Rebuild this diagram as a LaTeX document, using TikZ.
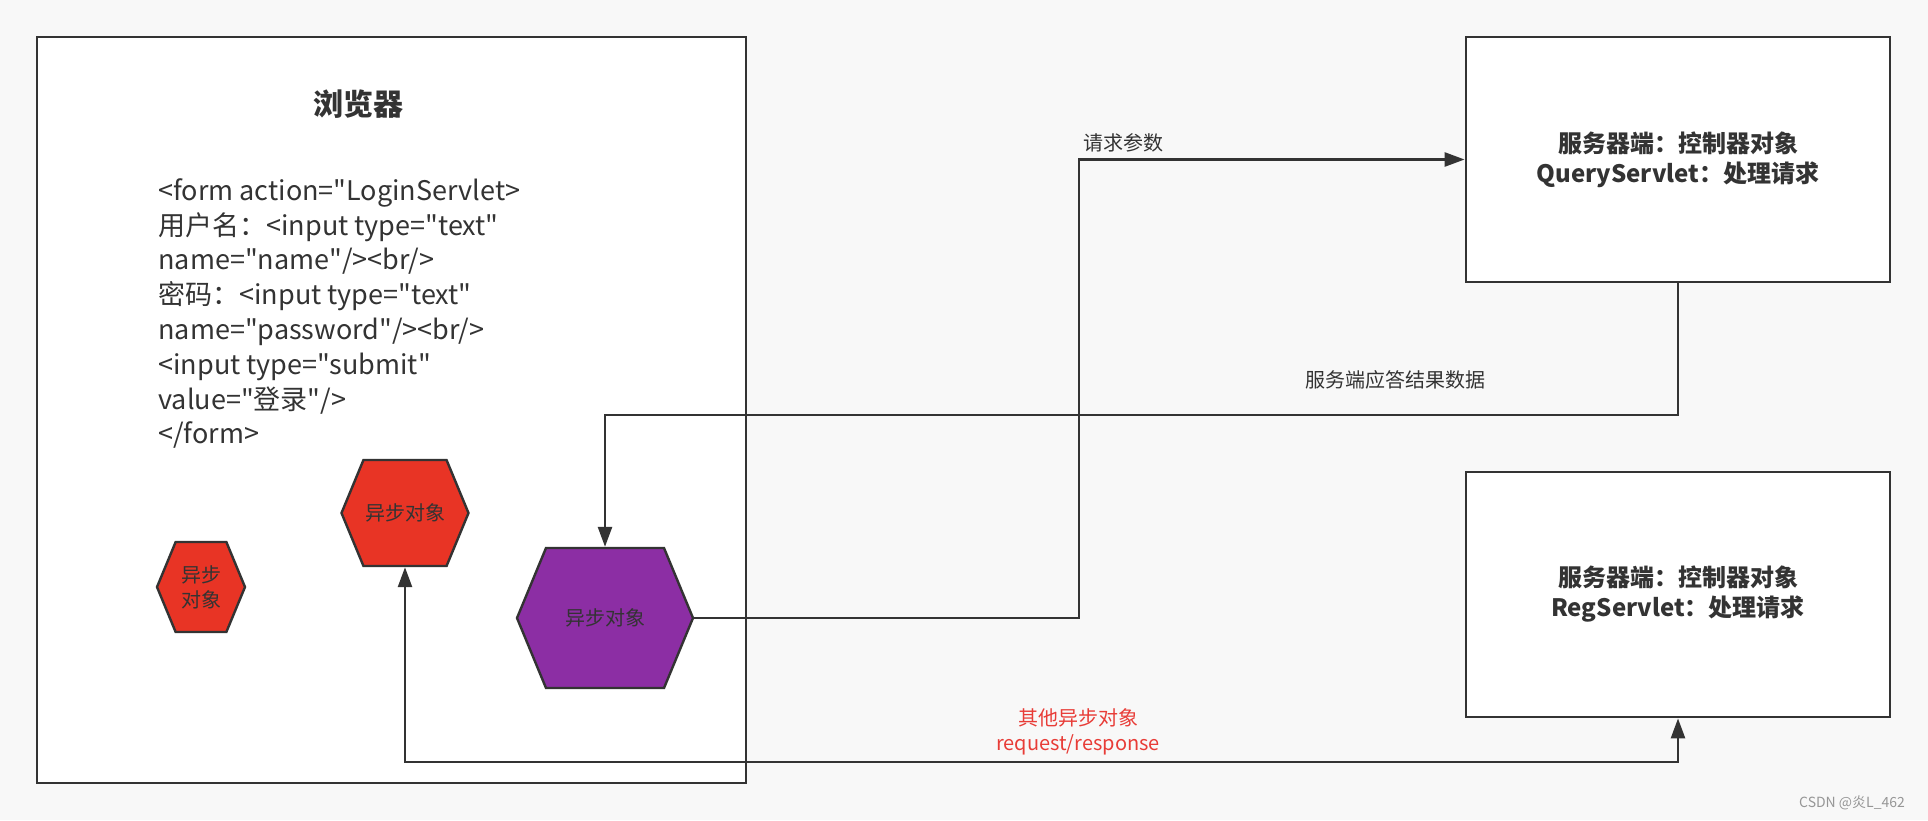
\documentclass[tikz,border=0pt]{standalone}
\usepackage{fontspec}
\setmainfont{Noto Sans CJK SC}[Ligatures=TeXOff]
\usetikzlibrary{positioning,arrows.meta,shapes.symbols}
\definecolor{LineGray}{RGB}{51,51,51}
\definecolor{PageGray}{RGB}{248,248,248}
\definecolor{AsyncRed}{RGB}{232,52,37}
\definecolor{AsyncPurple}{RGB}{140,46,164}
\definecolor{NoteRed}{RGB}{232,60,55}
\definecolor{MarkGray}{RGB}{150,150,150}

\tikzset{
	box/.style={
		draw=LineGray,
		fill=white,
		line width=1.4pt,
		minimum width=212pt,
		minimum height=122.5pt,
		align=center,
		text=LineGray,
		font=\bfseries\fontsize{12}{15}\selectfont
	},
	hexa/.style={
		signal,
		signal to=east and west,
		signal pointer angle=135,
		draw=LineGray,
		line width=1.2pt,
		inner sep=0pt,
		align=center,
		text=LineGray,
		font=\fontsize{10}{12.5}\selectfont
	},
	flow/.style={
		->,
		>={Triangle[length=10pt,width=7pt]},
		LineGray,
		line width=1.3pt
	},
	lbl/.style={
		text=LineGray,
		font=\fontsize{10}{12.5}\selectfont
	}
}

\begin{document}
\begin{tikzpicture}[x=0.5pt,y=-0.5pt]
				
				\useasboundingbox (0,0) rectangle (1928,820);
				\fill[PageGray] (0,0) rectangle (1928,820);
				
				\node[
				box,
				minimum width=354.5pt,
				minimum height=373pt
				]
				(browser) at (391.5,410)
				{};
				
				\node[
				text=LineGray,
				font=\bfseries\fontsize{15}{18}\selectfont
				]
				(title) at (358,104)
				{浏览器};
				
				\node[
				anchor=north west,
				align=left,
				inner sep=0pt,
				text=LineGray,
				font=\fontsize{13.5}{17.4}\selectfont
				]
				(form) at (158,178)
				{<form action="LoginServlet>\\
					用户名：<input type="text"\\
					name="name"/><br/>\\
					密码：<input type="text"\\
					name="password"/><br/>\\
					<input type="submit"\\
					value="登录"/>\\
					</form>};
				
				\node[
				hexa,
				fill=AsyncRed,
				minimum width=44pt,
				minimum height=45pt
				]
				(small) at (201,587)
				{异步\\对象};
				
				\node[
				hexa,
				fill=AsyncRed,
				minimum width=63.5pt,
				minimum height=53pt
				]
				(other) at (405,513)
				{异步对象};
				
				\node[
				hexa,
				fill=AsyncPurple,
				minimum width=88pt,
				minimum height=70pt
				]
				(async) at (605,618)
				{异步对象};
				
				\node[box] (query) at (1678,159.5)
				{服务器端：控制器对象\\QueryServlet：处理请求};
				
				\node[box] (reg) at (1678,594.5)
				{服务器端：控制器对象\\RegServlet：处理请求};
				
				\coordinate (reqbend) at (1079,159.5);
				\coordinate (respbend) at (605,415);
				\coordinate (otherbend) at (1678,762);
				
				\draw[flow] (async.east) -| (reqbend) -- (query.west);
				
				\draw[flow] (query.south) |- (respbend) -- (async.north);
				
				\draw[flow, <->] (other.south) |- (otherbend) -- (reg.south);
				
				\node[lbl, anchor=west] (reqlbl) at (1076,143) {请求参数};
				
				\node[lbl] (resplbl) at (1395,380) {服务端应答结果数据};
				
				\node[
				lbl,
				text=NoteRed,
				align=center
				]
				(otherlbl) at (1078,732)
				{其他异步对象\\request/response};
				
				\node[
				anchor=east,
				text=MarkGray,
				font=\fontsize{7}{8}\selectfont
				]
				(mark) at (1912,803)
				{CSDN @炎L\_462};
				
			\end{tikzpicture}
\end{document}
